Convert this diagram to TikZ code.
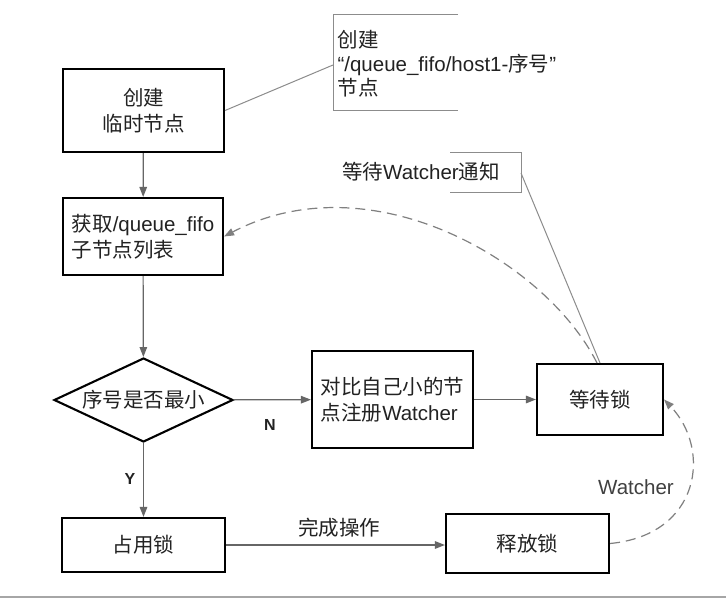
\documentclass[tikz,border=0pt]{standalone}
\usepackage{fontspec}
\setmainfont{Liberation Sans}
\newfontfamily\zh{Noto Sans CJK SC}
\usetikzlibrary{arrows.meta,shapes.geometric}
\definecolor{txt}{HTML}{222222}
\definecolor{lgray}{HTML}{666666}
\definecolor{dgray}{HTML}{808080}
\definecolor{ngray}{HTML}{8C8C8C}
\begin{document}
\begin{tikzpicture}[x=1pt,y=-1pt,
  every node/.style={font=\fontsize{20.5}{26}\selectfont, text=txt},
  box/.style={draw=black, line width=2.1pt, rectangle, inner sep=1pt, align=center},
  conn/.style={draw=lgray, line width=1.2pt, -{Triangle[length=10pt,width=7.5pt]}},
  dashedconn/.style={draw=dgray, line width=1.2pt, dash pattern=on 10pt off 6pt, -{Triangle[length=10pt,width=7.5pt]}},
  note/.style={draw=ngray, line width=1pt}]
\useasboundingbox (0,0) rectangle (726,602);
\fill[white] (0,0) rectangle (726,602);

% nodes
\node[box, minimum width=161pt, minimum height=83pt] (create) at (143.5,110.5) {{\zh 创建}\\{\zh 临时节点}};
\node[box, minimum width=160pt, minimum height=77pt, align=left] (list) at (143,236.5) {{\zh 获取}/queue\_fifo\\{\zh 子节点列表}};
\node[diamond, draw=black, line width=2.1pt, minimum width=179pt, minimum height=84pt, inner sep=0pt, aspect=2.1] (min) at (143.5,400) {\zh 序号是否最小};
\node[box, minimum width=161pt, minimum height=97pt, align=left] (reg) at (392.5,399.5) {{\zh 对比自己小的节}\\{\zh 点注册}Watcher};
\node[box, minimum width=126pt, minimum height=71pt] (wait) at (600,399.5) {\zh 等待锁};
\node[box, minimum width=163pt, minimum height=54pt] (hold) at (143.5,545) {\zh 占用锁};
\node[box, minimum width=163pt, minimum height=59pt] (rel) at (527.5,543.5) {\zh 释放锁};

% annotation 1
\draw[note] (458,15) -- (333,15) -- (333,110) -- (458,110);
\node[anchor=west, align=left, font=\fontsize{20.5}{24}\selectfont] (n1) at (334,64) {{\zh 创建}\\“/queue\_fifo/host1-{\zh 序号}”\\{\zh 节点}};
\coordinate (n1l) at (333,65);
\draw[note] (create.east) -- (n1l);

% annotation 2
\draw[note] (450,152) -- (521,152) -- (521,192) -- (450,192);
\node (n2) at (421,172) {{\zh 等待}Watcher{\zh 通知}};
\coordinate (n2r) at (521,173);
\draw[note] (n2r) -- (wait.north);

% connectors
\draw[conn] (create) -- (list);
\draw[conn] (list) -- (min);
\draw[conn] (min) -- (reg);
\draw[conn] (reg) -- (wait);
\draw[conn] (min) -- (hold);
\draw[conn] (hold.east) -- (hold.east -| rel.west);

\draw[dashedconn] ([xshift=-3pt]wait.north) .. controls (545,260) and (370,160) .. (list.east);
\draw[dashedconn] (rel.east) .. controls (700,535) and (712,450) .. (wait.east);

% labels
\node[font=\bfseries\fontsize{16}{20}\selectfont] (lN) at (270,425) {N};
\node[font=\bfseries\fontsize{16}{20}\selectfont] (lY) at (130,479) {Y};
\node (done) at (339,528) {\zh 完成操作};
\node[text=black!75] (wl) at (636,487) {Watcher};

% bottom rule
\coordinate (bl) at (0,597);
\coordinate (br) at (726,597);
\draw[draw=gray!70, line width=1.5pt] (bl) -- (br);
\end{tikzpicture}
\end{document}
